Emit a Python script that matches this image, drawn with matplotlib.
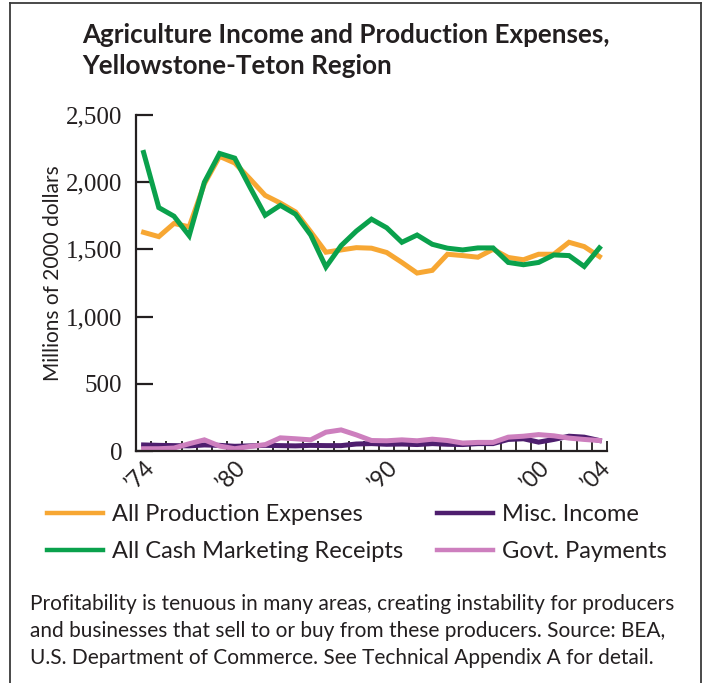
import matplotlib
matplotlib.use("Agg")
import matplotlib.pyplot as plt
from matplotlib.ticker import FuncFormatter, FixedLocator
from matplotlib.lines import Line2D

years = list(range(1974, 2005))
production_expenses = [1627, 1595, 1693, 1668, 1988, 2192, 2143, 2025, 1902, 1845,
                       1779, 1631, 1479, 1496, 1513, 1509, 1477, 1403, 1324, 1344,
                       1464, 1454, 1442, 1501, 1440, 1423, 1464, 1464, 1553, 1521, 1447]
cash_receipts = [2221, 1811, 1747, 1602, 2000, 2214, 2179, 1963, 1754, 1828,
                 1762, 1607, 1369, 1528, 1636, 1725, 1661, 1553, 1607, 1538,
                 1509, 1496, 1511, 1511, 1403, 1386, 1403, 1459, 1454, 1373, 1511]
misc_income = [45, 42, 40, 38, 45, 42, 35, 38, 42, 40,
               38, 42, 40, 40, 52, 55, 50, 52, 48, 55,
               50, 48, 55, 55, 86, 91, 66, 86, 110, 103, 78]
govt_payments = [17, 17, 22, 54, 83, 37, 17, 34, 47, 98,
                 91, 83, 140, 157, 120, 78, 76, 83, 76, 88,
                 78, 59, 64, 64, 103, 110, 122, 113, 96, 86, 78]
series_names = ["All Production Expenses", "All Cash Marketing Receipts",
                "Misc. Income", "Govt. Payments"]
series_colors = ["#F7A733", "#0AA14C", "#4E1E6E", "#CD7FBE"]
xtick_years = [1974, 1980, 1990, 2000, 2004]
xtick_labels = ["\u201974", "\u201980", "\u201990", "\u201900", "\u201904"]
yticks = [0, 500, 1000, 1500, 2000, 2500]

title = "Agriculture Income and Production Expenses,\nYellowstone-Teton Region"
ylabel = "Millions of 2000 dollars"
caption = ("Profitability is tenuous in many areas, creating instability for producers\n"
           "and businesses that sell to or buy from these producers. Source: BEA,\n"
           "U.S. Department of Commerce. See Technical Appendix A for detail.")

W, H = 704, 683
fig = plt.figure(figsize=(W / 100, H / 100), dpi=100)
fig.patch.set_facecolor("white")

# outer frame (left, top, right)
frame_col = "#3a3a3a"
fig.add_artist(Line2D([10 / W, 10 / W], [0, 1 - 3 / H], color=frame_col, lw=1.3, transform=fig.transFigure))
fig.add_artist(Line2D([10 / W, 701 / W], [1 - 3 / H, 1 - 3 / H], color=frame_col, lw=1.3, transform=fig.transFigure))
fig.add_artist(Line2D([701 / W, 701 / W], [0, 1 - 3 / H], color=frame_col, lw=1.3, transform=fig.transFigure))

left, right, bottom_px, top_px = 136, 607, 451, 115
ax = fig.add_axes([left / W, 1 - bottom_px / H, (right - left) / W, (bottom_px - top_px) / H])

data = [production_expenses, cash_receipts, misc_income, govt_payments]
handles = []
for vals, name, col in zip(data, series_names, series_colors):
    h, = ax.plot(years, vals, color=col, lw=3.6, solid_joinstyle="miter", label=name, clip_on=False)
    handles.append(h)

ax.set_xlim(years[0] - 0.5, years[-1] + 0.5)
ax.set_ylim(0, 2500)

for s in ["top", "right"]:
    ax.spines[s].set_visible(False)
axis_col = "#231F20"
for s in ["left", "bottom"]:
    ax.spines[s].set_color(axis_col)
    ax.spines[s].set_linewidth(1.6)

ax.set_yticks(yticks)
ax.yaxis.set_major_formatter(FuncFormatter(lambda v, p: f"{int(v):,}"))
ax.tick_params(axis="y", direction="in", length=12, width=1.6, color=axis_col,
               labelsize=18, labelcolor="#231F20", pad=10)
for lab in ax.get_yticklabels():
    lab.set_fontfamily("Liberation Serif")

ax.set_xticks(xtick_years)
ax.set_xticklabels(xtick_labels)
ax.xaxis.set_minor_locator(FixedLocator([y + 0.5 for y in [years[0] - 1] + years]))
ax.tick_params(axis="x", which="minor", direction="in", length=7, width=1.3, color=axis_col)
ax.tick_params(axis="x", which="major", length=0, labelsize=16.5, labelcolor="#231F20", pad=4)
for lab in ax.get_xticklabels():
    lab.set_rotation(45)
    lab.set_ha("right")
    lab.set_va("top")
    lab.set_rotation_mode("anchor")
    lab.set_fontfamily("Lato")

ax.set_ylabel(ylabel, fontsize=15, family="Lato", color="#231F20")
ax.yaxis.set_label_coords(-0.155, 0.53)

fig.text(82 / W, 1 - 50.5 / H, title, fontsize=18.7, fontweight="bold",
         family=["Liberation Sans Narrow", "Lato"], color="#231F20",
         ha="left", va="center", linespacing=1.38)

leg = fig.legend(handles=handles, loc="upper left", bbox_to_anchor=(47 / W, 1 - 504 / H),
                 ncol=2, frameon=False, prop={"family": "Lato", "size": 17},
                 handlelength=2.37, handletextpad=0.38, columnspacing=1.45,
                 labelspacing=0.68, borderpad=0, borderaxespad=0)
for t in leg.get_texts():
    t.set_color("#231F20")
for lh in leg.get_lines():
    lh.set_linewidth(3.2)

fig.text(30 / W, 1 - 631 / H, caption, fontsize=15.0, family="Lato", color="#231F20",
         ha="left", va="center", linespacing=1.45)

fig.savefig("out.png", dpi=100)
